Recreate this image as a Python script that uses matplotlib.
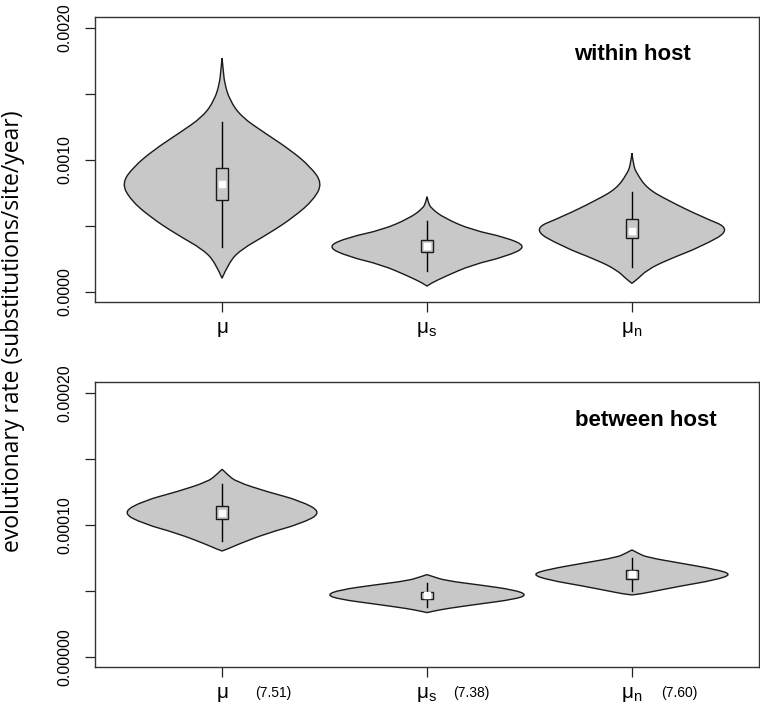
import numpy as np
import matplotlib
matplotlib.use("Agg")
import matplotlib.pyplot as plt
from matplotlib.path import Path
from matplotlib.patches import PathPatch, Rectangle

plt.rcParams['font.family'] = ['Liberation Sans', 'DejaVu Sans']

# categories and extra labels
labels = ['$\\mathregular{μ}$', '$\\mathregular{μ_s}$', '$\\mathregular{μ_n}$']
between_notes = ['(7.51)', '(7.38)', '(7.60)']

# within host violins, y in units of 1e-3, relative half width (0..1)
w_mu_y = [1.770, 1.680, 1.581, 1.455, 1.328, 1.202, 1.076, 0.949, 0.823, 0.697, 0.571, 0.444, 0.318, 0.217, 0.104]
w_mu_w = [0, 0.012, 0.025, 0.075, 0.19, 0.43, 0.68, 0.88, 1.0, 0.91, 0.72, 0.47, 0.18, 0.064, 0]
w_mus_y = [0.722, 0.680, 0.634, 0.558, 0.470, 0.414, 0.343, 0.268, 0.205, 0.116, 0.066, 0.045]
w_mus_w = [0, 0.012, 0.04, 0.176, 0.447, 0.785, 1.0, 0.785, 0.447, 0.176, 0.04, 0]
w_mun_y = [1.051, 0.960, 0.899, 0.785, 0.697, 0.571, 0.475, 0.343, 0.242, 0.167, 0.091, 0.066]
w_mun_w = [0, 0.015, 0.047, 0.15, 0.35, 0.69, 1.0, 0.69, 0.35, 0.15, 0.047, 0]

# box stats within host: whisker low, q1, median, q3, whisker high (1e-3)
w_box = [[0.34, 0.70, 0.82, 0.94, 1.29],
         [0.162, 0.30, 0.351, 0.394, 0.538],
         [0.192, 0.407, 0.465, 0.551, 0.760]]

# between host violins, y in units of 1e-4
b_mu_y = [1.422, 1.379, 1.328, 1.252, 1.184, 1.093, 1.008, 0.937, 0.848, 0.818, 0.803]
b_mu_w = [0, 0.057, 0.142, 0.446, 0.78, 1.0, 0.78, 0.446, 0.142, 0.057, 0]
b_mus_y = [0.624, 0.609, 0.578, 0.545, 0.508, 0.470, 0.437, 0.402, 0.366, 0.346, 0.336]
b_mus_w = [0, 0.058, 0.19, 0.53, 0.87, 1.0, 0.87, 0.53, 0.19, 0.058, 0]
b_mun_y = [0.811, 0.786, 0.755, 0.710, 0.664, 0.626, 0.583, 0.538, 0.487, 0.475, 0.470]
b_mun_w = [0, 0.06, 0.15, 0.49, 0.83, 1.0, 0.83, 0.49, 0.15, 0.06, 0]

b_box = [[0.879, 1.043, 1.09, 1.146, 1.308],
         [0.381, 0.44, 0.47, 0.495, 0.563],
         [0.503, 0.588, 0.63, 0.659, 0.748]]

VIO_COL = '#c8c8c8'
HALF = 0.49


def smooth_side(pts):
    # quadratic spline through midpoints, endpoints kept (tips stay sharp)
    verts = [pts[0]]
    codes = [Path.MOVETO]
    for i in range(1, len(pts) - 1):
        mid = ((pts[i][0] + pts[i + 1][0]) / 2, (pts[i][1] + pts[i + 1][1]) / 2)
        if i == len(pts) - 2:
            mid = pts[i + 1]
        verts += [pts[i], mid]
        codes += [Path.CURVE3, Path.CURVE3]
    return verts, codes


def violin(ax, x, ys, ws, box):
    right = [(x + w * HALF, y) for y, w in zip(ys, ws)]
    left = [(x - w * HALF, y) for y, w in zip(ys[::-1], ws[::-1])]
    v1, c1 = smooth_side(right)
    v2, c2 = smooth_side(left)
    c2[0] = Path.LINETO
    path = Path(v1 + v2, c1 + c2)
    ax.add_patch(PathPatch(path, facecolor=VIO_COL, edgecolor='#1a1a1a', lw=1.0, zorder=2))
    lo, q1, med, q3, hi = box
    ax.plot([x, x], [lo, hi], color='black', lw=1.0, zorder=3)
    ax.add_patch(Rectangle((x - 0.03, q1), 0.06, q3 - q1, facecolor=VIO_COL,
                           edgecolor='#1a1a1a', lw=1.0, zorder=4))
    ax.plot([x], [med], marker='s', ms=4.5, color='white', mec='white', zorder=5)


fig = plt.figure(figsize=(7.6, 7.05), dpi=100)
ax1 = fig.add_axes([95 / 760, 1 - 302 / 705, 664 / 760, 285 / 705])
ax2 = fig.add_axes([95 / 760, 1 - 667 / 705, 664 / 760, 285 / 705])

violin(ax1, 1, w_mu_y, w_mu_w, w_box[0])
violin(ax1, 2, w_mus_y, w_mus_w, w_box[1])
violin(ax1, 3, w_mun_y, w_mun_w, w_box[2])

violin(ax2, 1, b_mu_y, b_mu_w, b_box[0])
violin(ax2, 2, b_mus_y, b_mus_w, b_box[1])
violin(ax2, 3, b_mun_y, b_mun_w, b_box[2])

for ax in (ax1, ax2):
    ax.set_xlim(0.38, 3.62)
    ax.set_ylim(-0.076, 2.083)
    ax.set_yticks([0, 0.5, 1.0, 1.5, 2.0])
    ax.set_xticks([1, 2, 3])
    ax.set_xticklabels(labels, fontsize=15)
    ax.tick_params(axis='both', direction='out', length=7.2, width=0.9, color='#222222')
    ax.tick_params(axis='x', pad=6)
    ax.tick_params(axis='y', pad=9)
    for s in ax.spines.values():
        s.set_linewidth(1.0)
        s.set_color('#333333')

ax1.set_yticklabels(['0.0000', '', '0.0010', '', '0.0020'], rotation=90, va='center', fontsize=11.5)
ax2.set_yticklabels(['0.00000', '', '0.00010', '', '0.00020'], rotation=90, va='center', fontsize=11.5)

for i, note in enumerate(between_notes):
    off = 33 if i == 0 else 26 if i == 1 else 29
    ax2.annotate(note, xy=(i + 1, 0), xycoords=('data', 'axes fraction'),
                 xytext=(off * 0.72, -26 * 0.72), textcoords='offset points',
                 ha='left', va='center', fontsize=10)

ax1.text(3.0, 1.80, 'within host', fontsize=16, fontweight='bold', ha='center', va='center')
ax2.text(3.07, 1.795, 'between host', fontsize=16, fontweight='bold', ha='center', va='center')

fig.text(13 / 760, 1 - 331 / 705, 'evolutionary rate (substitutions/site/year)',
         rotation=90, ha='center', va='center', fontsize=16.5, family=['Open Sans', 'DejaVu Sans'])

fig.savefig('out.png', dpi=100)
